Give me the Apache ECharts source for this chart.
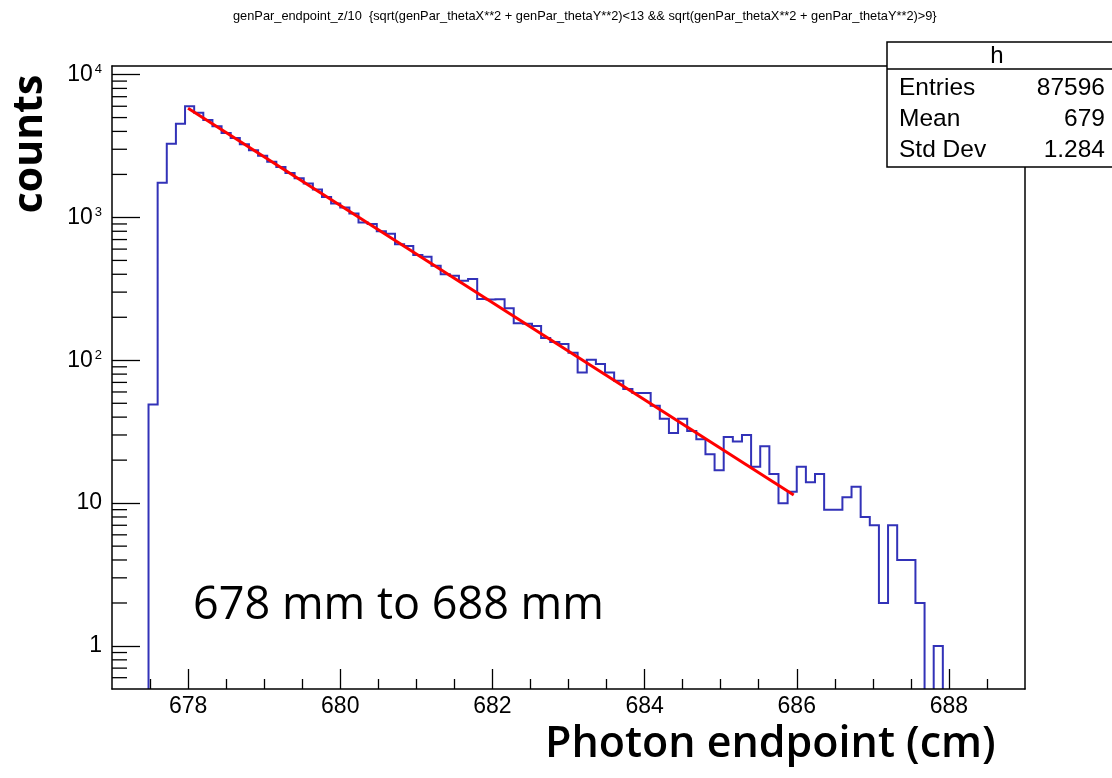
<!DOCTYPE html>
<html><head><meta charset="utf-8">
<script src="https://cdn.jsdelivr.net/npm/echarts@6/dist/echarts.min.js"></script>
<style>html,body{margin:0;padding:0;background:#fff}#c{width:1112px;height:778px}</style>
</head><body><div id="c"></div>
<script>
// ---- data ----
const histStart = 677;
const binWidth = 0.12;
const counts = [
  0, 0, 0, 0, 49, 1750, 3280, 4520, 6000, 5400,
  4800, 4350, 3900, 3600, 3250, 2950, 2700, 2450, 2250, 2050,
  1880, 1730, 1570, 1390, 1250, 1175, 1066, 923, 898, 800,
  770, 650, 630, 545, 530, 458, 400, 390, 360, 370,
  268, 266, 267, 231, 182, 180, 174, 143, 134, 130,
  113, 82, 101, 94, 82, 72, 63, 59, 59, 48,
  39, 31, 39, 32, 28, 22, 17, 29, 27, 30,
  18, 25, 16, 10, 12, 18, 14, 16, 9, 9,
  11, 13, 8, 7, 2, 7, 4, 4, 2, 0,
  1, 0, 0, 0, 0, 0, 0, 0, 0, 0
];
const fitPoints = [[678.0, 5820], [685.96, 11.4]];
const xMajorTicks = [678, 680, 682, 684, 686, 688];
const xMinorTicks = [677.5, 678.5, 679, 679.5, 680.5, 681, 681.5, 682.5, 683, 683.5, 684.5, 685, 685.5, 686.5, 687, 687.5, 688.5];
const yMinorTicks = [0.6, 0.7, 0.8, 0.9, 2, 3, 4, 5, 6, 7, 8, 9, 20, 30, 40, 50, 60, 70, 80, 90,
  200, 300, 400, 500, 600, 700, 800, 900, 2000, 3000, 4000, 5000, 6000, 7000, 8000, 9000];
const xRange = [677, 689];
const yRange = [0.5, 11480];
const titleText = 'genPar_endpoint_z/10  {sqrt(genPar_thetaX**2 + genPar_thetaY**2)<13 && sqrt(genPar_thetaX**2 + genPar_thetaY**2)>9}';
const statsTitle = 'h';
const statsNames = ['Entries', 'Mean', 'Std Dev'];
const statsValues = ['87596', '679', '1.284'];
const yTitle = 'counts';
const xTitle = 'Photon endpoint (cm)';
const noteText = '678 mm to 688 mm';

// ---- chart ----
const FONT = '"Liberation Sans", Arial, sans-serif';
const BIGFONT = '"Open Sans", "Noto Sans", sans-serif';
const chart = echarts.init(document.getElementById('c'), null, {renderer: 'canvas'});

function yLabel(v) {
  const l = Math.log10(v);
  const e = Math.round(l);
  if (Math.abs(l - e) > 1e-6) return '';
  if (e === 0) return '1';
  if (e === 1) return '10';
  return '10{s|' + e + '}';
}

const statsGraphics = [];
const bx = 887, by = 42, bw = 240, bh = 125, hdr = 27;
statsGraphics.push({type: 'rect', shape: {x: bx, y: by, width: bw, height: bh}, style: {fill: '#fff', stroke: '#000', lineWidth: 1.5}, z: 100});
statsGraphics.push({type: 'line', shape: {x1: bx, y1: by + hdr, x2: bx + bw, y2: by + hdr}, style: {stroke: '#000', lineWidth: 1.5}, z: 101});
statsGraphics.push({type: 'text', x: 997, y: by + hdr / 2 + 1, style: {text: statsTitle, font: '24px ' + FONT, fill: '#000', align: 'center', verticalAlign: 'middle'}, z: 101});
statsNames.forEach((n, i) => {
  const cy = by + hdr + 19 + i * 31;
  statsGraphics.push({type: 'text', x: 899, y: cy, style: {text: n, font: '24.5px ' + FONT, fill: '#000', align: 'left', verticalAlign: 'middle'}, z: 101});
  statsGraphics.push({type: 'text', x: 1105, y: cy, style: {text: statsValues[i], font: '24.5px ' + FONT, fill: '#000', align: 'right', verticalAlign: 'middle'}, z: 101});
});

const option = {
  animation: false,
  backgroundColor: '#fff',
  title: {
    text: titleText, left: 228, top: 5,
    textStyle: {fontFamily: FONT, fontSize: 12.8, fontWeight: 'normal', color: '#000'}
  },
  grid: {left: 112, right: 87, top: 66, bottom: 89, containLabel: false},
  xAxis: [
    {type: 'value', min: xRange[0], max: xRange[1], position: 'bottom', z: 10,
      axisLine: {show: true, onZero: false, lineStyle: {color: '#000', width: 1.5}},
      axisTick: {show: true, inside: true, length: 20, customValues: xMajorTicks, lineStyle: {color: '#000', width: 1.3}},
      axisLabel: {show: true, customValues: xMajorTicks, margin: 6, color: '#000', fontSize: 23, fontFamily: FONT},
      splitLine: {show: false}},
    {type: 'value', min: xRange[0], max: xRange[1], position: 'bottom', z: 10,
      axisLine: {show: false},
      axisTick: {show: true, inside: true, length: 10, customValues: xMinorTicks, lineStyle: {color: '#000', width: 1.3}},
      axisLabel: {show: false}, splitLine: {show: false}},
    {type: 'value', min: xRange[0], max: xRange[1], position: 'top', z: 10,
      axisLine: {show: true, onZero: false, lineStyle: {color: '#000', width: 1.5}},
      axisTick: {show: false}, axisLabel: {show: false}, splitLine: {show: false}}
  ],
  yAxis: [
    {type: 'log', logBase: 10, min: yRange[0], max: yRange[1], position: 'left', z: 10,
      axisLine: {show: true, onZero: false, lineStyle: {color: '#000', width: 1.5}},
      axisTick: {show: true, inside: true, length: 28, lineStyle: {color: '#000', width: 1.3}},
      axisLabel: {show: true, margin: 10, color: '#000', fontSize: 23, fontFamily: FONT, formatter: yLabel,
        showMinLabel: false, showMaxLabel: false,
        rich: {s: {fontSize: 13, fontFamily: FONT, color: '#000', verticalAlign: 'top', lineHeight: 10, padding: [0, 0, 0, 2]}}},
      minorTick: {show: false}, splitLine: {show: false}},
    {type: 'log', logBase: 10, min: yRange[0], max: yRange[1], position: 'right', z: 10,
      axisLine: {show: true, onZero: false, lineStyle: {color: '#000', width: 1.5}},
      axisTick: {show: false}, axisLabel: {show: false}, splitLine: {show: false}}
  ],
  series: [
    {
      type: 'custom', name: 'hist', xAxisIndex: 0, yAxisIndex: 0, z: 3, clip: true,
      data: [[histStart, 1]],
      renderItem: function (params, api) {
        const floor = yRange[0] * 0.9;
        const pts = [];
        for (let k = 0; k < counts.length; k++) {
          const x0 = histStart + k * binWidth, x1 = x0 + binWidth;
          const v = counts[k] > 0 ? counts[k] : floor;
          pts.push(api.coord([x0, v]));
          pts.push(api.coord([x1, v]));
        }
        return {type: 'polyline', shape: {points: pts}, style: {stroke: '#3232b8', lineWidth: 2, fill: null}};
      }
    },
    {
      type: 'line', name: 'fit', xAxisIndex: 0, yAxisIndex: 0, z: 4,
      data: fitPoints, showSymbol: false, symbol: 'none',
      lineStyle: {color: '#ff0000', width: 3}
    },
    {
      type: 'custom', name: 'yminor', xAxisIndex: 0, yAxisIndex: 0, z: 12, clip: false,
      data: yMinorTicks.map(v => [xRange[0], v]),
      renderItem: function (params, api) {
        const p = api.coord([api.value(0), api.value(1)]);
        return {type: 'line', shape: {x1: p[0], y1: p[1], x2: p[0] + 15, y2: p[1]}, style: {stroke: '#000', lineWidth: 1.3}};
      }
    }
  ],
  graphic: [
    {type: 'text', x: 30, y: 144, rotation: Math.PI / 2, z: 50,
      style: {text: yTitle, font: 'bold 41px ' + BIGFONT, fill: '#000', align: 'center', verticalAlign: 'middle'}},
    {type: 'text', x: 545, y: 745, z: 50,
      style: {text: xTitle, font: '600 43px ' + BIGFONT, fill: '#000', align: 'left', verticalAlign: 'middle'}},
    {type: 'text', x: 193, y: 606, z: 50,
      style: {text: noteText, font: '45px ' + BIGFONT, fill: '#000', align: 'left', verticalAlign: 'middle'}}
  ].concat(statsGraphics)
};
chart.setOption(option);
</script>
</body></html>
